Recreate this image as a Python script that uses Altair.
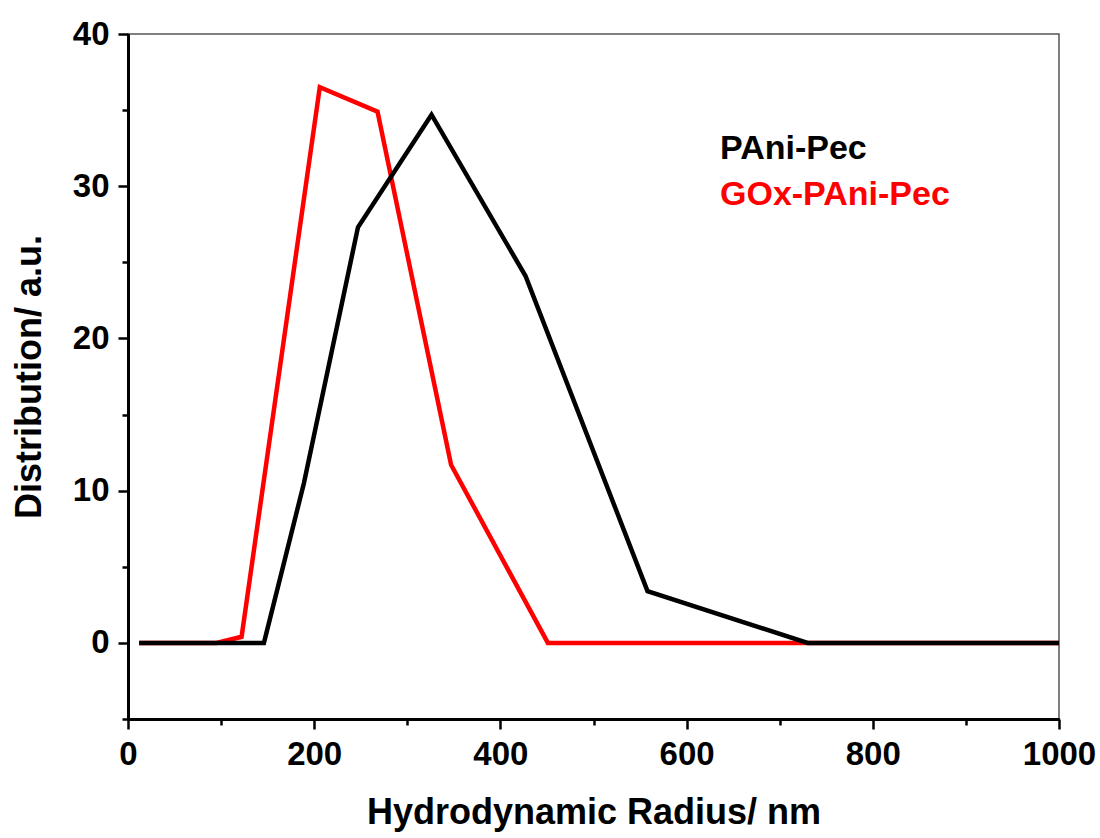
import altair as alt
import pandas as pd

# Data
pani_x = [12, 146, 189, 247, 326, 427, 558, 730, 1000]
pani_y = [0, 0, 10.5, 27.3, 34.7, 24.1, 3.4, 0, 0]
gox_x = [12, 95, 122, 206, 268, 347, 451, 730, 1000]
gox_y = [0, 0, 0.4, 36.5, 34.9, 11.7, 0, 0, 0]

series = ["PAni-Pec", "GOx-PAni-Pec"]
colors = ["#000000", "#ff0000"]

x_major = [0, 200, 400, 600, 800, 1000]
x_minor = [100, 300, 500, 700, 900]
y_major = [0, 10, 20, 30, 40]
y_minor = [-5, 5, 15, 25, 35]

df_pani = pd.DataFrame({"r": pani_x, "d": pani_y, "s": series[0]})
df_gox = pd.DataFrame({"r": gox_x, "d": gox_y, "s": series[1]})

FONT = "Liberation Sans"

xscale = alt.Scale(domain=[0, 1000], nice=False, zero=False)
yscale = alt.Scale(domain=[-5, 40], nice=False, zero=False)
cscale = alt.Scale(domain=series, range=colors)

axis_common = dict(
    domainColor="black", domainWidth=3, tickColor="black", tickWidth=2.5,
    labelFont=FONT, labelFontWeight="bold", labelFontSize=33, labelColor="black",
    titleFont=FONT, titleFontWeight="bold", titleFontSize=36, titleColor="black",
    grid=False, labelFlush=False, format="d",
)

x_axis_major = alt.Axis(values=x_major, tickSize=10, labelPadding=9, orient="bottom",
                        title="Hydrodynamic Radius/ nm", titlePadding=24, **axis_common)
y_axis_major = alt.Axis(values=y_major, tickSize=10, labelPadding=9, orient="left",
                        title="Distribution/ a.u.", titlePadding=24, **axis_common)
x_axis_minor = alt.Axis(values=x_minor, tickSize=6, labels=False, orient="bottom",
                        title="", **axis_common)
y_axis_minor = alt.Axis(values=y_minor, tickSize=6, labels=False, orient="left",
                        title="", **axis_common)

red = alt.Chart(df_gox).mark_line(strokeWidth=4.5, clip=True).encode(
    x=alt.X("r:Q", scale=xscale, axis=x_axis_major),
    y=alt.Y("d:Q", scale=yscale, axis=y_axis_major),
    color=alt.Color("s:N", scale=cscale, legend=None),
)

black = alt.Chart(df_pani).mark_line(strokeWidth=4.5, clip=True).encode(
    x=alt.X("r:Q", scale=xscale, axis=x_axis_minor),
    y=alt.Y("d:Q", scale=yscale, axis=y_axis_minor),
    color=alt.Color("s:N", scale=cscale, legend=None),
)

legend_df = pd.DataFrame({"s": series, "row": [0, 1]})
legend_text = alt.Chart(legend_df).mark_text(
    align="left", baseline="alphabetic", font=FONT, fontWeight="bold", fontSize=34
).encode(
    x=alt.value(592),
    y=alt.Y("row:Q", scale=alt.Scale(domain=[0, 1], range=[125, 171]), axis=None),
    text="s:N",
    color=alt.Color("s:N", scale=cscale, legend=None),
)

chart = alt.layer(red, black, legend_text).resolve_axis(
    x="independent", y="independent"
).resolve_scale(y="independent").properties(
    width=931, height=685,
    autosize=alt.AutoSizeParams(type="none"),
    padding={"left": 128, "top": 34, "right": 41, "bottom": 119},
    background="white",
).configure_view(stroke="#555555", strokeWidth=1.5)

chart.save("out.html", embed_options={"renderer": "svg", "actions": False})
